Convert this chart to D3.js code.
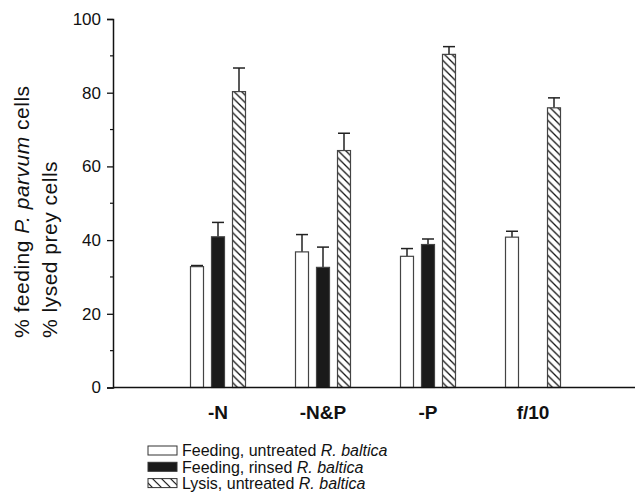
<!DOCTYPE html>
<html>
<head>
<meta charset="utf-8">
<script src="https://cdn.jsdelivr.net/npm/d3@7"></script>
<style>
  body { margin: 0; background: #fff; }
  svg { font-family: "Liberation Sans", Arial, sans-serif; }
</style>
</head>
<body>
<div id="canvas"></div>
<script>
const treatments = ["-N", "-N&P", "-P", "f/10"];
const seriesNames = ["untreated", "rinsed", "lysis"];
const feedUntreated = [32.8, 36.8, 35.6, 40.8];
const feedUntreatedErr = [0.3, 4.7, 2.1, 1.6];
const feedRinsed = [40.9, 32.6, 38.8, null];
const feedRinsedErr = [3.9, 5.5, 1.5, null];
const lysis = [80.3, 64.3, 90.4, 75.9];
const lysisErr = [6.4, 4.7, 2.1, 2.7];
const yTicks = [0, 20, 40, 60, 80, 100];
const yMinor = [10, 30, 50, 70, 90];

const width = 635, height = 497;

const svg = d3.select("#canvas")
  .append("svg")
    .attr("width", width)
    .attr("height", height);

const defs = svg.append("defs");
function hatch(id, size, sw) {
  const p = defs.append("pattern")
    .attr("id", id)
    .attr("patternUnits", "userSpaceOnUse")
    .attr("width", size)
    .attr("height", size);
  p.append("rect").attr("width", size).attr("height", size).attr("fill", "#fff");
  p.append("path")
    .attr("d", `M0,0L${size},${size}M${-size / 2},${size / 2}L${size / 2},${size * 1.5}M${size / 2},${-size / 2}L${size * 1.5},${size / 2}`)
    .attr("stroke", "#111")
    .attr("stroke-width", sw);
}
hatch("hatch", 7.5, 1.3);
hatch("hatchLegend", 9, 1.2);

// scales
const x = d3.scaleLinear().domain([0, 5]).range([113, 638]);
const y = d3.scaleLinear().domain([0, 100]).range([387.5, 19]);
const inner = d3.scaleBand().domain(seriesNames).range([-27.5, 27.5]).paddingInner(8 / 21);

const series = [
  { key: "untreated", vals: feedUntreated, err: feedUntreatedErr, fill: "#fff" },
  { key: "rinsed", vals: feedRinsed, err: feedRinsedErr, fill: "#1a1a1a" },
  { key: "lysis", vals: lysis, err: lysisErr, fill: "url(#hatch)" }
];

const bars = [];
series.forEach(s => {
  s.vals.forEach((v, i) => {
    if (v == null) return;
    bars.push({ key: s.key, i: i, v: v, e: s.err[i], fill: s.fill });
  });
});

function i2x(i) { return i + 1; }
const bx = d => x(i2x(d.i)) + inner(d.key);

// error bars (drawn before bars so stem starts at top)
const eb = svg.append("g").attr("stroke", "#222").attr("stroke-width", 1.5);
eb.selectAll("line.stem")
  .data(bars)
  .enter()
  .append("line")
    .attr("x1", d => bx(d) + inner.bandwidth() / 2)
    .attr("x2", d => bx(d) + inner.bandwidth() / 2)
    .attr("y1", d => y(d.v))
    .attr("y2", d => y(d.v + d.e));
eb.selectAll("line.cap")
  .data(bars)
  .enter()
  .append("line")
    .attr("x1", d => bx(d) + 0.5)
    .attr("x2", d => bx(d) + inner.bandwidth() - 0.5)
    .attr("y1", d => y(d.v + d.e))
    .attr("y2", d => y(d.v + d.e));

svg.append("g").selectAll("rect")
  .data(bars)
  .enter()
  .append("rect")
    .attr("x", d => bx(d))
    .attr("y", d => y(d.v))
    .attr("width", inner.bandwidth())
    .attr("height", d => y(0) - y(d.v))
    .attr("fill", d => d.fill)
    .attr("stroke", "#444")
    .attr("stroke-width", 1.2);

// y axis
const yAxis = svg.append("g").attr("transform", `translate(${x(0)},0)`);
yAxis.call(d3.axisLeft(y).tickValues(yTicks).tickSize(6).tickPadding(6).tickFormat(d3.format("d")));
yAxis.select(".domain").attr("stroke", "#111").attr("stroke-width", 1.5);
yAxis.selectAll(".tick line").attr("stroke", "#111").attr("stroke-width", 1.3);
yAxis.selectAll(".tick text")
  .attr("font-size", 17)
  .attr("font-family", "Liberation Sans, Arial, sans-serif")
  .attr("fill", "#111");
yAxis.selectAll("line.minor")
  .data(yMinor)
  .enter()
  .append("line")
    .attr("x1", -3)
    .attr("x2", 0)
    .attr("y1", d => y(d))
    .attr("y2", d => y(d))
    .attr("stroke", "#111")
    .attr("stroke-width", 1.2);

// x axis line
svg.append("line")
  .attr("x1", x(0))
  .attr("x2", width)
  .attr("y1", y(0))
  .attr("y2", y(0))
  .attr("stroke", "#111")
  .attr("stroke-width", 1.5);

svg.append("g").selectAll("text")
  .data(treatments)
  .enter()
  .append("text")
    .attr("x", (d, i) => x(i2x(i)))
    .attr("y", 418.5)
    .attr("text-anchor", "middle")
    .attr("font-size", 19)
    .attr("font-weight", "bold")
    .attr("fill", "#111")
    .text(d => d);

// y title
const yt = svg.append("g").attr("font-size", 21).attr("letter-spacing", 0.5).attr("fill", "#111");
const t1 = yt.append("text").attr("transform", "translate(29,338) rotate(-90)");
t1.append("tspan").text("% feeding ");
t1.append("tspan").attr("font-style", "italic").text("P. parvum");
t1.append("tspan").text(" cells");
yt.append("text").attr("transform", "translate(57,338) rotate(-90)").text("% lysed prey cells");

// legend
const legendItems = [
  { fill: "#fff", parts: ["Feeding, untreated ", "R. baltica"] },
  { fill: "#1a1a1a", parts: ["Feeding, rinsed ", "R. baltica"] },
  { fill: "url(#hatchLegend)", parts: ["Lysis, untreated ", "R. baltica"] }
];
const lg = svg.append("g");
const rows = lg.selectAll("g")
  .data(legendItems)
  .enter()
  .append("g")
    .attr("transform", (d, i) => `translate(148,${450.5 + i * 16.3})`);
rows.append("rect")
  .attr("x", 0)
  .attr("y", -4.5)
  .attr("width", 29)
  .attr("height", 9)
  .attr("fill", d => d.fill)
  .attr("stroke", "#333")
  .attr("stroke-width", 1);
const lt = rows.append("text")
  .attr("x", 34)
  .attr("y", 5.8)
  .attr("font-size", 16)
  .attr("fill", "#111");
lt.append("tspan").text(d => d.parts[0]);
lt.append("tspan").attr("font-style", "italic").text(d => d.parts[1]);
</script>
</body>
</html>
